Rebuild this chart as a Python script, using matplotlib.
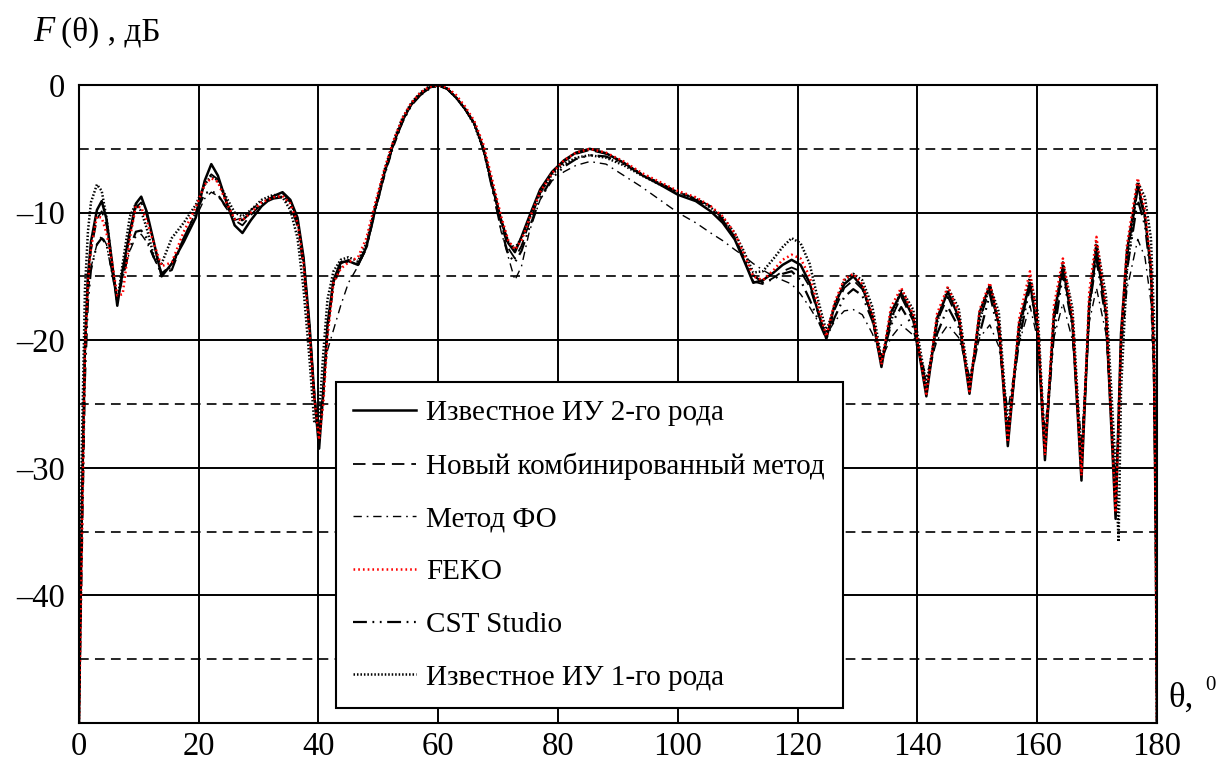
import matplotlib
matplotlib.use("Agg")
import matplotlib.pyplot as plt
from matplotlib.ticker import MultipleLocator, FixedLocator, FuncFormatter

plt.rcParams["font.family"] = ["Liberation Serif", "DejaVu Serif"]
plt.rcParams["lines.scale_dashes"] = False

# angle grid, degrees
theta = [0, 0.5, 1, 1.5, 2,
         3, 3.8, 4.6, 5.5, 6.4, 7.3, 8.5, 9.5, 10.4, 11.3, 12.5, 13.8,
         15.5, 17.5, 19.5, 21, 22.1, 23.2, 24.5, 26, 27.3, 28.7, 30.5, 32.5, 34,
         35.3, 36.5, 37.5, 38.5, 39.3, 40.1, 40.8, 41.5, 42.5, 43.7, 45, 46.6, 48, 49.5,
         51, 52.5, 54, 55.5, 57, 58.5, 60, 61.5, 63, 64.5, 66, 67.5, 69, 70.5,
         71.7, 72.8, 73.9, 75.2, 77, 79, 81, 83, 85.3, 88, 91, 94, 97, 100,
         103, 105.5, 107.5, 109.5, 111, 112.6, 114.2, 116, 117.5, 119, 120.5, 122, 123.5, 124.8,
         126.2, 127.8, 129.3, 130.8, 132.5, 134, 135.6, 137.3, 139.3, 141.5, 143.3, 145.1, 146.9, 148.7,
         150.4, 152.1, 153.6, 155.1, 157, 158.8, 160.1, 161.3, 162.8, 164.3, 165.9, 167.4, 168.7, 169.9,
         171.5, 173.1, 173.6, 174, 175, 176.8, 178, 179, 179.5, 179.8, 180]

# Известное ИУ 2-го рода
iu2 = [-50, -33, -20.5, -15, -12.3,
       -9.8, -9.1, -10.5, -13.8, -17.3, -14.5, -11.5, -9.3, -8.75, -9.9, -12.3, -15.0,
       -14.0, -12.3, -10.4, -7.5, -6.2, -7.1, -9.0, -11.0, -11.6, -10.6, -9.5, -8.7, -8.4,
       -9.0, -10.4, -13.5, -18.8, -24.3, -28.5, -24.0, -18.8, -15.3, -13.9, -13.8, -14.1, -12.7, -9.6,
       -6.9, -4.6, -2.8, -1.5, -0.7, -0.2, 0, -0.3, -1.0, -1.9, -3.0, -4.9, -7.8, -10.6,
       -12.4, -13.1, -11.9, -10.3, -8.2, -6.8, -5.9, -5.3, -5.0, -5.35, -6.1, -7.05, -7.8, -8.6,
       -9.1, -9.9, -10.8, -12.1, -13.7, -15.5, -15.3, -14.7, -14.1, -13.7, -14.1, -15.5, -17.9, -19.9,
       -17.2, -15.6, -15.0, -15.8, -18.2, -22.1, -17.8, -16.3, -18.2, -24.4, -18.25, -16.2, -18.2, -24.2,
       -17.8, -15.7, -18.8, -28.3, -18.7, -15.5, -19.3, -29.4, -18.0, -14.2, -18.7, -31.0, -17.1, -12.7,
       -18.0, -34.0, -26.0, -19.5, -13.0, -7.8, -10.3, -14.5, -21.6, -35, -50]

# Новый комбинированный метод
combined = [-50, -34, -21, -15.5, -13.0,
            -10.5, -9.9, -11.0, -14.0, -17.0, -14.8, -11.8, -9.6, -9.2, -10.2, -12.4, -14.8,
            -14.0, -12.0, -10.0, -7.6, -7.0, -7.4, -9.0, -10.6, -11.0, -10.2, -9.3, -8.7, -8.5,
            -9.1, -10.6, -13.6, -18.8, -24.0, -27.8, -24.5, -19.5, -15.5, -14.0, -13.7, -14.0, -12.6, -9.6,
            -6.9, -4.6, -2.8, -1.5, -0.7, -0.2, 0, -0.3, -1.0, -1.9, -3.0, -4.9, -7.9, -10.9,
            -12.8, -13.6, -12.6, -10.8, -8.5, -6.9, -6.0, -5.4, -5.1, -5.4, -6.1, -7.0, -7.7, -8.4,
            -8.9, -9.5, -10.5, -11.9, -13.6, -15.4, -15.6, -15.1, -14.6, -14.3, -14.6, -15.8, -18.0, -19.8,
            -17.6, -15.9, -15.3, -16.0, -18.2, -21.8, -18.3, -16.6, -18.5, -24.0, -18.5, -16.6, -18.5, -23.8,
            -18.3, -16.1, -18.8, -27.5, -19.0, -15.9, -19.0, -28.8, -18.5, -14.6, -18.6, -30.5, -17.5, -13.2,
            -18.0, -33.0, -26.5, -20.0, -13.5, -8.2, -10.5, -14.6, -22, -35, -50]

# Метод ФО
po = [-50, -35, -22, -16.5, -14.3,
      -12.5, -11.8, -12.5, -14.8, -17.0, -15.2, -13.0, -11.9, -11.7, -12.3, -13.6, -14.7,
      -14.3, -12.2, -10.4, -8.9, -8.4, -8.7, -9.6, -10.6, -10.4, -9.8, -9.1, -8.8, -8.7,
      -9.2, -10.8, -14.0, -19.3, -24.8, -27.0, -23.5, -20.8, -19.2, -17.3, -15.5, -14.2, -12.8, -9.9,
      -7.2, -4.9, -3.0, -1.6, -0.8, -0.3, -0.05, -0.3, -1.0, -1.9, -3.0, -5.0, -8.0, -11.5,
      -13.5, -15.3, -14.2, -11.5, -9.0, -7.5, -6.8, -6.3, -6.0, -6.2, -7.1, -8.0, -9.0, -10.0,
      -10.8, -11.6, -12.2, -12.9, -13.4, -14.0, -14.5, -15.0, -15.3, -15.6, -16.4, -17.4, -18.6, -19.6,
      -18.5, -17.7, -17.6, -18.0, -19.5, -21.5, -19.8, -18.8, -19.6, -22.8, -20.0, -18.8, -19.8, -22.8,
      -19.8, -18.8, -20.5, -25.5, -20.2, -17.3, -20.0, -27.0, -19.8, -17.1, -20.0, -28.0, -18.6, -15.9,
      -19.5, -31.0, -26.0, -21.0, -16.0, -12.1, -13.5, -17.0, -24, -36, -50]

# FEKO
feko = [-50, -36, -21, -15.5, -12.8,
        -10.3, -10.4, -11.6, -13.8, -16.5, -16.4, -12.0, -9.5, -9.6, -10.6, -12.4, -14.2,
        -13.9, -11.5, -9.6, -7.8, -7.3, -7.6, -9.1, -10.5, -10.6, -10.0, -9.2, -8.8, -8.7,
        -9.3, -10.8, -14.0, -19.5, -24.5, -27.8, -25.0, -19.8, -15.5, -14.4, -13.9, -13.5, -12.0, -9.2,
        -6.6, -4.4, -2.6, -1.4, -0.6, -0.15, 0, -0.2, -0.8, -1.7, -2.8, -4.6, -7.4, -10.3,
        -12.2, -12.9, -12.2, -10.5, -8.4, -6.9, -5.9, -5.3, -5.0, -5.3, -6.0, -6.9, -7.6, -8.3,
        -8.8, -9.5, -10.3, -11.6, -13.2, -15.0, -15.3, -14.5, -13.7, -13.3, -13.6, -15.0, -17.5, -19.7,
        -17.0, -15.2, -14.8, -15.6, -18.0, -21.9, -17.4, -15.9, -18.0, -24.2, -17.9, -15.8, -17.9, -24.0,
        -17.6, -15.5, -18.6, -28.0, -18.3, -14.6, -18.6, -29.0, -17.3, -13.6, -18.1, -30.6, -16.2, -11.9,
        -17.5, -33.5, -27.0, -20.0, -12.5, -7.3, -9.8, -14.0, -21.0, -35, -50]

# CST Studio
cst = [-50, -36, -23, -17, -14.5,
       -12.5, -12.0, -12.5, -14.5, -16.8, -15.0, -12.8, -11.5, -11.4, -12.0, -13.5, -14.8,
       -14.5, -12.0, -10.0, -8.5, -8.3, -8.6, -9.5, -10.5, -10.6, -10.0, -9.3, -8.9, -8.8,
       -9.4, -11.0, -14.2, -19.5, -24.5, -27.2, -24.0, -19.0, -15.7, -14.2, -13.8, -14.1, -12.8, -9.8,
       -7.0, -4.7, -2.9, -1.6, -0.8, -0.3, -0.05, -0.3, -1.0, -1.9, -3.0, -5.0, -8.1, -11.3,
       -13.3, -13.9, -13.0, -11.2, -8.9, -7.3, -6.4, -5.8, -5.5, -5.6, -6.2, -7.0, -7.7, -8.4,
       -9.0, -9.6, -10.6, -12.0, -13.5, -14.9, -15.5, -15.2, -14.8, -14.6, -15.3, -16.8, -18.5, -19.9,
       -18.2, -16.6, -16.0, -16.5, -18.5, -21.5, -18.8, -17.4, -19.0, -23.5, -19.5, -17.4, -19.0, -23.5,
       -19.5, -16.4, -19.5, -27.0, -20.0, -15.8, -19.5, -28.5, -19.5, -14.8, -19.0, -30.0, -17.5, -13.6,
       -18.5, -32.5, -26.0, -20.0, -14.5, -9.0, -11.0, -15.0, -22, -35, -50]

# Известное ИУ 1-го рода
iu1 = [-50, -28, -16, -11.5, -9.2,
       -7.8, -8.3, -10.4, -14.0, -17.0, -14.0, -10.3, -9.3, -9.9, -11.2, -13.4, -14.0,
       -12.0, -10.8, -9.4, -7.8, -7.1, -7.5, -8.7, -10.0, -10.3, -9.8, -9.0, -8.6, -8.8,
       -9.8, -12.0, -16.0, -21.5, -26.5, -26.0, -21.0, -16.8, -14.6, -13.7, -13.5, -13.8, -12.4, -9.5,
       -6.7, -4.4, -2.6, -1.4, -0.6, -0.1, 0, -0.3, -1.0, -1.9, -3.1, -5.0, -7.9, -10.6,
       -12.3, -12.8, -12.0, -10.5, -8.5, -7.0, -6.2, -5.7, -5.5, -5.7, -6.3, -7.1, -7.8, -8.4,
       -8.9, -9.6, -10.4, -11.6, -13.0, -14.7, -14.6, -13.6, -12.7, -12.0, -12.4, -14.0, -17.0, -19.3,
       -17.3, -15.3, -14.8, -15.3, -17.4, -21.5, -18.5, -16.0, -17.6, -23.5, -18.6, -15.9, -17.5, -23.5,
       -18.5, -15.7, -17.8, -27.0, -19.5, -15.0, -17.8, -28.5, -18.5, -13.9, -17.5, -29.5, -17.5, -12.3,
       -16.5, -30.0, -35.8, -24.0, -14.5, -7.6, -8.8, -12.0, -18.0, -32, -50]

labels = ["Известное ИУ 2-го рода", "Новый комбинированный метод", "Метод ФО",
          "FEKO", "CST Studio", "Известное ИУ 1-го рода"]

fig = plt.figure(figsize=(12.24, 7.65), dpi=100)
ax = fig.add_axes([0.0645, 0.0549, 0.8807, 0.8340])

ax.plot(theta, iu2, color="black", lw=1.8, label=labels[0], zorder=4)
ax.plot(theta, combined, color="black", lw=1.3, dashes=(9, 5), label=labels[1], zorder=4)
ax.plot(theta, po, color="black", lw=1.0, dashes=(6, 3.5, 1.2, 3.5), label=labels[2], zorder=4)
ax.plot(theta, feko, color="red", lw=1.8, dashes=(1.2, 2.2), label=labels[3], zorder=6)
ax.plot(theta, cst, color="black", lw=1.6, dashes=(10, 4, 1.3, 4, 1.3, 4), label=labels[4], zorder=4)
ax.plot(theta, iu1, color="black", lw=1.8, dashes=(1.1, 1.4), label=labels[5], zorder=5)

ax.set_xlim(0, 180)
ax.set_ylim(-50, 0)
ax.xaxis.set_major_locator(MultipleLocator(20))
ax.yaxis.set_major_locator(FixedLocator([-40, -30, -20, -10, 0]))
ax.yaxis.set_minor_locator(FixedLocator([-45, -35, -25, -15, -5]))
ax.yaxis.set_major_formatter(FuncFormatter(lambda v, p: f"{v:.0f}".replace("-", "–")))

ax.grid(True, which="major", axis="both", color="black", lw=1.4, zorder=1)
ax.grid(True, which="minor", axis="y", color="black", lw=1.2, dashes=(7, 4.5), zorder=1)
ax.tick_params(which="both", length=0, labelsize=23.5)
ax.tick_params(axis="x", pad=6)
ax.tick_params(axis="y", pad=10)
for sp in ax.spines.values():
    sp.set_linewidth(1.5)
    sp.set_zorder(7)

leg = ax.legend(loc="lower left", bbox_to_anchor=(0.2384, 0.0235, 0.4703, 0.5157), mode="expand",
                borderaxespad=0, fontsize=21, handlelength=2.15, handletextpad=0.35,
                labelspacing=0.9, borderpad=0.6, fancybox=False, framealpha=1)
leg.get_frame().set_edgecolor("black")
leg.get_frame().set_linewidth(1.5)
leg.set_zorder(10)

fig.text(33 / 1224, 1 - 41 / 765, "F", fontsize=25, style="italic", va="baseline")
fig.text(61 / 1224, 1 - 41 / 765, "(θ) , дБ", fontsize=24, va="baseline")
fig.text(1168 / 1224, 1 - 707 / 765, "θ,", fontsize=25, va="baseline")
fig.text(1205 / 1224, 1 - 690 / 765, "0", fontsize=15, va="baseline")

fig.savefig("out.png", dpi=100)
